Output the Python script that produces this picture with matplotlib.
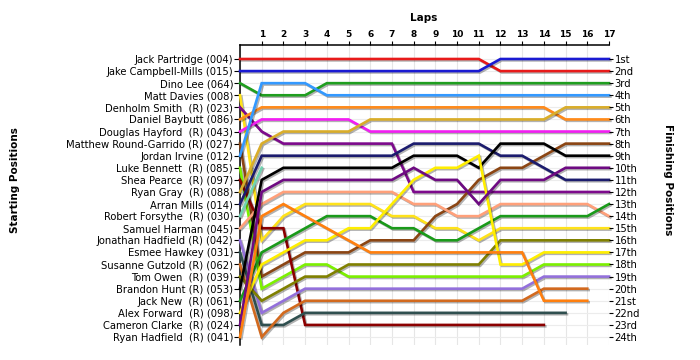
import matplotlib
matplotlib.use("Agg")
import matplotlib.pyplot as plt
import matplotlib.patheffects as pe

# starting grid, top to bottom
drivers = [
    "Jack Partridge (004)", "Jake Campbell-Mills (015)", "Dino Lee (064)",
    "Matt Davies (008)", "Denholm Smith  (R) (023)", "Daniel Baybutt (086)",
    "Douglas Hayford  (R) (043)", "Matthew Round-Garrido (R) (027)",
    "Jordan Irvine (012)", "Luke Bennett  (R) (085)", "Shea Pearce  (R) (097)",
    "Ryan Gray  (R) (088)", "Arran Mills (014)", "Robert Forsythe  (R) (030)",
    "Samuel Harman (045)", "Jonathan Hadfield (R) (042)", "Esmee Hawkey (031)",
    "Susanne Gutzold (R) (062)", "Tom Owen  (R) (039)", "Brandon Hunt (R) (053)",
    "Jack New  (R) (061)", "Alex Forward  (R) (098)", "Cameron Clarke  (R) (024)",
    "Ryan Hadfield  (R) (041)",
]

# position at each lap (lap 0 = grid)
p01 = [1, 1, 1, 1, 1, 1, 1, 1, 1, 1, 1, 1, 2, 2, 2, 2, 2, 2]
p02 = [2, 2, 2, 2, 2, 2, 2, 2, 2, 2, 2, 2, 1, 1, 1, 1, 1, 1]
p03 = [3, 4, 4, 4, 3, 3, 3, 3, 3, 3, 3, 3, 3, 3, 3, 3, 3, 3]
p04 = [4, 16, 14, 13, 13, 13, 13, 14, 14, 15, 15, 16, 15, 15, 15, 15, 15, 15]
p05 = [5, 7, 8, 8, 8, 8, 8, 8, 12, 12, 12, 12, 12, 12, 12, 12, 12, 12]
p06 = [6, 5, 5, 5, 5, 5, 5, 5, 5, 5, 5, 5, 5, 5, 5, 6, 6, 6]
p07 = [7, 6, 6, 6, 6, 6, 7, 7, 7, 7, 7, 7, 7, 7, 7, 7, 7, 7]
p08 = [8, 19, 18, 17, 17, 17, 16, 16, 16, 14, 13, 11, 10, 10, 9, 8, 8, 8]
p09 = [9, 3, 3, 3, 4, 4, 4, 4, 4, 4, 4, 4, 4, 4, 4, 4, 4, 4]
p10 = [10, 20, 19, 18, 18, 19, 19, 19, 19, 19, 19, 19, 19, 19, 18, 18, 18, 18]
p11 = [11, 15, 15, 23, 23, 23, 23, 23, 23, 23, 23, 23, 23, 23, 23]
p12 = [12, 8, 7, 7, 7, 7, 6, 6, 6, 6, 6, 6, 6, 6, 6, 5, 5, 5]
p13 = [13, 9, 9, 9, 9, 9, 9, 9, 8, 8, 8, 8, 9, 9, 10, 11, 11, 11]
p14 = [14, 10]
p15 = [15, 13, 12, 12, 12, 12, 12, 12, 13, 13, 14, 14, 13, 13, 13, 13, 13, 14]
p16 = [16, 22, 21, 20, 20, 20, 20, 20, 20, 20, 20, 20, 20, 20, 19, 19, 19, 19]
p17 = [17, 23, 23, 22, 22, 22, 22, 22, 22, 22, 22, 22, 22, 22, 22, 22]
p18 = [18, 24, 22, 21, 21, 21, 21, 21, 21, 21, 21, 21, 21, 21, 20, 20, 20]
p19 = [19, 21, 20, 19, 19, 18, 18, 18, 18, 18, 18, 18, 16, 16, 16, 16, 16, 16]
p20 = [20, 11, 10, 10, 10, 10, 10, 10, 9, 9, 9, 10, 8, 8, 8, 9, 9, 9]
p21 = [21, 17, 16, 15, 14, 14, 14, 15, 15, 16, 16, 15, 14, 14, 14, 14, 14, 13]
p22 = [22, 18, 17, 16, 16, 15, 15, 13, 11, 10, 10, 9, 18, 18, 17, 17, 17, 17]
p23 = [23, 12, 11, 11, 11, 11, 11, 11, 10, 11, 11, 13, 11, 11, 11, 10, 10, 10]
p24 = [24, 14, 13, 14, 15, 16, 17, 17, 17, 17, 17, 17, 17, 17, 21, 21, 21]

positions = [p01, p02, p03, p04, p05, p06, p07, p08, p09, p10, p11, p12,
             p13, p14, p15, p16, p17, p18, p19, p20, p21, p22, p23, p24]

colors = ["#e81a1a", "#1a1ad2", "#1f9e1f", "#ffe21a", "#7d0a8c", "#ff8a1a",
          "#f21ef2", "#8b4513", "#3399ff", "#7cf000", "#8b0000", "#d9ad2a",
          "#1c1c6e", "#6fd2b0", "#ffa07a", "#9370db", "#2f4f4f", "#d2691e",
          "#808000", "#000000", "#1a9a1a", "#ffee00", "#6e0a82", "#ff7f0e"]

n_laps = 17
n_rows = len(drivers)


def ordinal(n):
    if n % 100 in (11, 12, 13):
        return f"{n}th"
    return f"{n}" + {1: "st", 2: "nd", 3: "rd"}.get(n % 10, "th")


fig = plt.figure(figsize=(7, 3.6), dpi=100)
ax = fig.add_axes([240 / 700, 15 / 360, 369 / 700, 300 / 360])

# faint grid
for lap in range(n_laps + 1):
    ax.axvline(lap, color="#e6e6e6", lw=0.8, zorder=0)
for r in range(1, n_rows + 1):
    ax.axhline(r, color="#ececec", lw=0.8, zorder=0)

shadow = [pe.SimpleLineShadow(offset=(1, -1), shadow_color="k", alpha=0.3),
          pe.Normal()]
for pos, c in zip(positions, colors):
    ax.plot(range(len(pos)), pos, color=c, lw=1.9, solid_joinstyle="miter",
            path_effects=shadow, clip_on=False, zorder=3)

ax.set_xlim(0, n_laps)
ax.set_ylim(24.66, -0.158)

ax.xaxis.tick_top()
ax.set_xticks(range(1, n_laps + 1))
ax.set_xticklabels([str(i) for i in range(1, n_laps + 1)], fontsize=6.5,
                   fontweight="bold")
ax.tick_params(axis="x", direction="out", length=3, pad=1)

ax.set_yticks(range(1, n_rows + 1))
ax.set_yticklabels(drivers, fontsize=7.2)
ax.tick_params(axis="y", direction="out", length=4, pad=1)

for s in ["right", "bottom"]:
    ax.spines[s].set_visible(False)
ax.spines["left"].set_linewidth(1.1)
ax.spines["top"].set_linewidth(1.1)

ax2 = ax.twinx()
ax2.set_ylim(ax.get_ylim())
ax2.set_yticks(range(1, n_rows + 1))
ax2.set_yticklabels([ordinal(i) for i in range(1, n_rows + 1)], fontsize=7.2)
ax2.tick_params(axis="y", direction="out", length=3, pad=1)
for s in ax2.spines.values():
    s.set_visible(False)

fig.text(424 / 700, 1 - 18 / 360, "Laps", ha="center", va="center",
         fontsize=7.5, fontweight="bold")
fig.text(15 / 700, 0.5, "Starting Positions", rotation=90, ha="center",
         va="center", fontsize=7.5, fontweight="bold")
fig.text(668 / 700, 0.5, "Finishing Positions", rotation=270, ha="center",
         va="center", fontsize=7.5, fontweight="bold")

fig.savefig("out.png", dpi=100, facecolor="white")
